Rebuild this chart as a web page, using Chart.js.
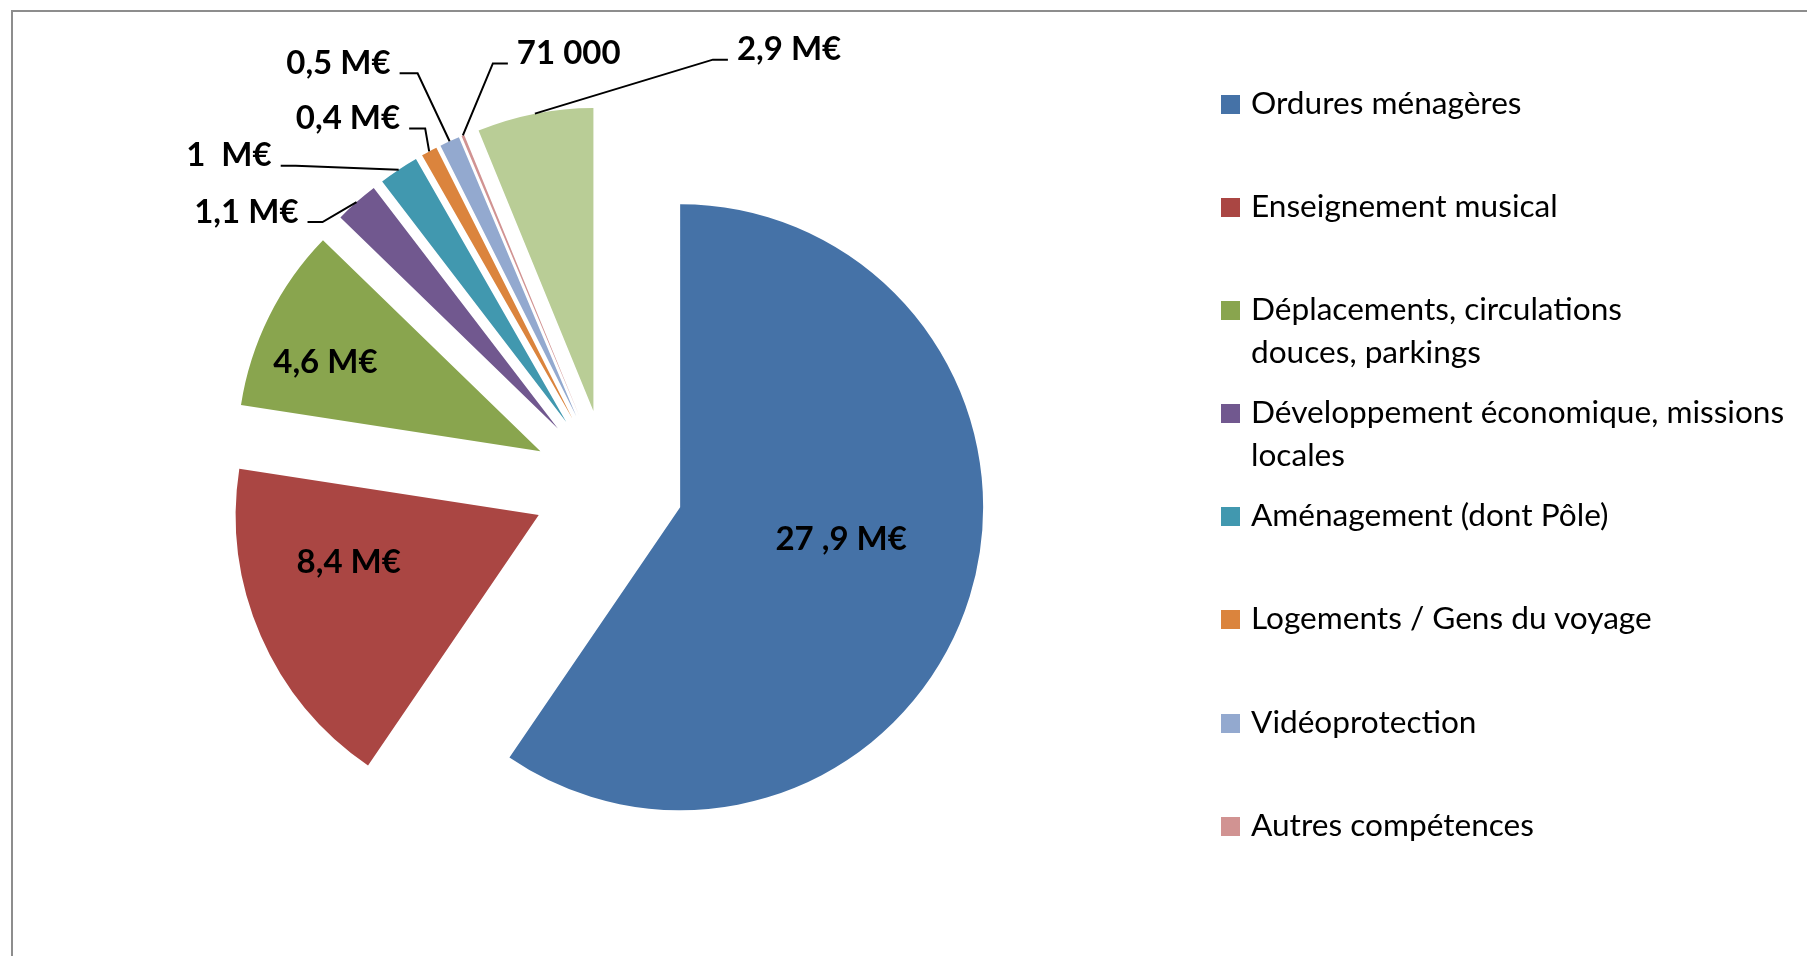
<!DOCTYPE html>
<html lang="fr">
<head>
<meta charset="utf-8">
<title>Répartition des dépenses par compétence</title>
<script src="https://cdn.jsdelivr.net/npm/chart.js@4.4.1/dist/chart.umd.min.js"></script>
<style>
  html, body { margin: 0; padding: 0; background: #fff; }
  body { width: 1807px; height: 956px; overflow: hidden; position: relative; }
  #frame { position: absolute; left: 11px; top: 10px; right: -20px; bottom: -20px;
           border-top: 2px solid #8d8d8d; border-left: 2px solid #8d8d8d; }
  #wrap { position: absolute; left: 0; top: 0; width: 1807px; height: 956px; }
  #legend { position: absolute; left: 1221px; top: 81px; width: 586px; height: 800px; overflow: hidden;
            font-family: Lato, sans-serif; color: #000; }
  .item { position: relative; height: 103.1px; }
  .swatch { position: absolute; left: 0; top: 14px; width: 19px; height: 19px; }
  .txt { margin-left: 30px; font-size: 31.6px; line-height: 42.5px; white-space: nowrap; }
</style>
</head>
<body>
<div id="frame"></div>
<div id="wrap"><canvas id="pie"></canvas></div>
<div id="legend"></div>
<script>
// slices, clockwise from 12 o'clock
const categories = [
  ['Ordures ménagères'],
  ['Enseignement musical'],
  ['Déplacements, circulations', 'douces, parkings'],
  ['Développement économique, missions', 'locales'],
  ['Aménagement (dont Pôle)'],
  ['Logements / Gens du voyage'],
  ['Vidéoprotection'],
  ['Autres compétences'],
  ['Divers'] // legend entry is cut off in the source
];
const amounts = [27.9, 8.4, 4.6, 1.1, 1.0, 0.4, 0.5, 0.071, 2.9]; // M€
const valueLabels = ['27 ,9 M€', '8,4 M€', '4,6 M€', '1,1 M€', '1  M€', '0,4 M€', '0,5 M€', '71 000', '2,9 M€'];
const colors = ['#4572A7', '#AA4643', '#89A54E', '#71588F', '#4198AF', '#DB843D', '#93A9CF', '#D19392', '#B9CD96'];

// label placement, px. inside: offset from the slice tip.
// outside: elbow offset from the slice's outer mid point, then a horizontal stub.
const labelPlacement = [
  { inside: [161, 31] },
  { inside: [-190, 46] },
  { inside: [-215, -90] },
  { elbow: [-34, 20], stub: -15 },
  { elbow: [-103, -4], stub: -15 },
  { elbow: [-4, -23], stub: -16 },
  { elbow: [-32, -68], stub: -18 },
  { elbow: [30, -72], stub: 15 },
  { elbow: [178, -54], stub: 15 }
];

const LABEL_FONT = 'bold 33px Lato, sans-serif';

// Excel-style explosion: push every slice out along its mid angle
const explode = {
  id: 'explode',
  afterDatasetsUpdate(chart, args, opts) {
    chart.getDatasetMeta(0).data.forEach(arc => {
      const m = (arc.startAngle + arc.endAngle) / 2;
      arc.x += Math.cos(m) * opts.distance;
      arc.y += Math.sin(m) * opts.distance;
    });
  }
};

const valueTags = {
  id: 'valueTags',
  afterDatasetsDraw(chart) {
    const ctx = chart.ctx;
    ctx.save();
    ctx.font = LABEL_FONT;
    ctx.fillStyle = '#000';
    ctx.strokeStyle = '#000';
    ctx.lineWidth = 2;
    const capH = ctx.measureText('M').actualBoundingBoxAscent;
    chart.getDatasetMeta(0).data.forEach((arc, i) => {
      const p = labelPlacement[i];
      const text = valueLabels[i];
      if (p.inside) {
        ctx.textAlign = 'center';
        ctx.fillText(text, arc.x + p.inside[0], arc.y + p.inside[1] + capH / 2);
        return;
      }
      const m = (arc.startAngle + arc.endAngle) / 2;
      const ox = arc.x + Math.cos(m) * arc.outerRadius;
      const oy = arc.y + Math.sin(m) * arc.outerRadius;
      const ex = ox + p.elbow[0], ey = oy + p.elbow[1];
      const sx = ex + p.stub;
      ctx.beginPath();
      ctx.moveTo(ox, oy);
      ctx.lineTo(ex, ey);
      ctx.lineTo(sx, ey);
      ctx.stroke();
      const dir = Math.sign(p.stub);
      ctx.textAlign = dir > 0 ? 'left' : 'right';
      ctx.fillText(text, sx + dir * 9, ey - 11.5 + capH / 2);
    });
    ctx.restore();
  }
};

const chart = new Chart(document.getElementById('pie'), {
  type: 'pie',
  data: {
    labels: categories.map(c => c.join(' ')),
    datasets: [{
      data: amounts,
      backgroundColor: colors,
      borderWidth: 0
    }]
  },
  options: {
    responsive: true,
    maintainAspectRatio: false,
    animation: false,
    events: [],
    radius: 303,
    layout: { padding: { left: 0, right: 591, top: 14, bottom: 0 } },
    plugins: {
      legend: { display: false },
      tooltip: { enabled: false },
      explode: { distance: 75.5 }
    }
  },
  plugins: [explode, valueTags]
});

// legend, Excel style: fixed row pitch, entries that don't fit are dropped
const legendEl = document.getElementById('legend');
categories.forEach((lines, i) => {
  const item = document.createElement('div');
  item.className = 'item';
  item.innerHTML = '<span class="swatch" style="background:' + colors[i] + '"></span>' +
    '<div class="txt">' + lines.join('<br>') + '</div>';
  legendEl.appendChild(item);
});
</script>
</body>
</html>
